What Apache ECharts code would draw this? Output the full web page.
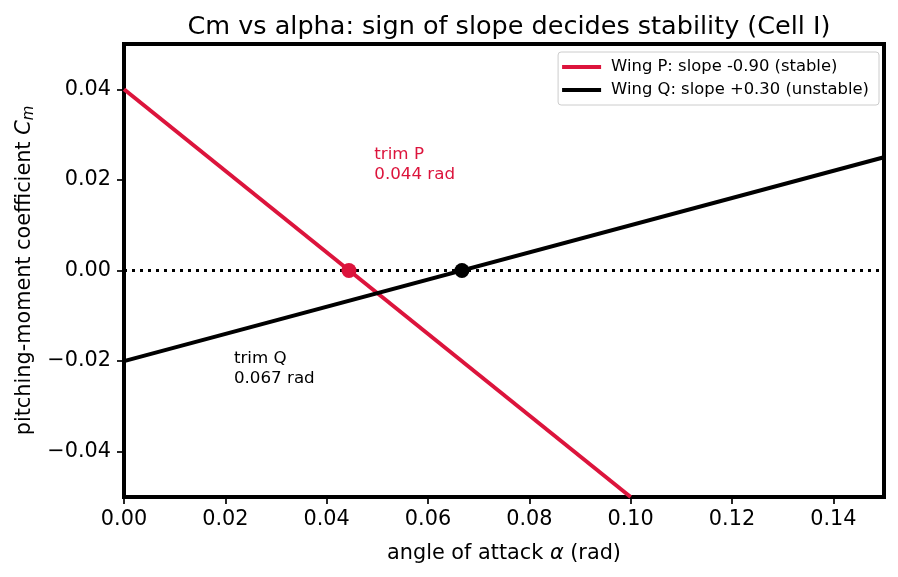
<!DOCTYPE html>
<html>
<head>
<meta charset="utf-8">
<script src="https://cdn.jsdelivr.net/npm/echarts@6/dist/echarts.min.js"></script>
</head>
<body style="margin:0">
<div id="main" style="width:898px;height:577px;"></div>
<script type="text/javascript">
    // values
    var alphaP = [0, 0.10];
    var cmP = [0.04, -0.05];
    var alphaQ = [0, 0.15];
    var cmQ = [-0.02, 0.025];
    var zeroLine = [[0, 0], [0.15, 0]];
    var trimP = [0.0444, 0];
    var trimQ = [0.0667, 0];
    var noteP = [0.0494, 0.02];
    var noteQ = [0.0217, -0.025];
    var xTicks = [0, 0.02, 0.04, 0.06, 0.08, 0.10, 0.12, 0.14];
    var yTicks = [-0.04, -0.02, 0, 0.02, 0.04];

    var red = '#dc143c';
    var font = 'DejaVu Sans';

    function pairs(xs, ys) {
        return xs.map(function (x, i) { return [x, ys[i]]; });
    }
    function fmt(v) {
        return v.toFixed(2).replace('-', '\u2212');
    }

    var myChart = echarts.init(document.getElementById('main'));
    var option = {
        animation: false,
        textStyle: { fontFamily: font },
        title: {
            text: 'Cm vs alpha: sign of slope decides stability (Cell I)',
            left: 504, top: 9, textAlign: 'center',
            textStyle: { fontFamily: font, fontSize: 25.5, fontWeight: 'normal', color: '#000' }
        },
        grid: {
            left: 124, right: 14, top: 44, bottom: 80,
            show: true, borderWidth: 4, borderColor: '#000'
        },
        legend: {
            data: ['Wing P: slope -0.90 (stable)', 'Wing Q: slope +0.30 (unstable)'],
            orient: 'vertical', right: 19, top: 52,
            icon: 'rect', itemWidth: 39, itemHeight: 4, itemGap: 7,
            padding: [7, 10, 7, 4],
            borderColor: '#ccc', borderWidth: 1, borderRadius: 3,
            backgroundColor: '#fff',
            textStyle: { fontFamily: font, fontSize: 16.4, color: '#000', padding: [0, 0, 0, 5] }
        },
        xAxis: {
            type: 'value', min: 0, max: 0.15,
            name: 'angle of attack {i|α} (rad)',
            nameLocation: 'middle', nameGap: 46,
            nameTextStyle: {
                fontFamily: font, fontSize: 20.8, color: '#000',
                rich: { i: { fontFamily: font, fontSize: 20.8, fontStyle: 'italic', color: '#000' } }
            },
            axisLine: { show: false, onZero: false },
            splitLine: { show: false },
            axisTick: { show: true, length: 7, lineStyle: { color: '#000', width: 1.7 }, customValues: xTicks },
            axisLabel: { color: '#000', fontSize: 20.8, fontFamily: font, margin: 12, customValues: xTicks, formatter: fmt }
        },
        yAxis: {
            type: 'value', min: -0.05, max: 0.05,
            name: 'pitching-moment coefficient {i|C}{s|m}',
            nameLocation: 'middle', nameGap: 84,
            nameTextStyle: {
                fontFamily: font, fontSize: 20.8, color: '#000',
                rich: {
                    i: { fontFamily: font, fontSize: 20.8, fontStyle: 'italic', color: '#000' },
                    s: { fontFamily: font, fontSize: 15, fontStyle: 'italic', color: '#000', verticalAlign: 'bottom', padding: [8, 0, 0, 0] }
                }
            },
            axisLine: { show: false, onZero: false },
            splitLine: { show: false },
            axisTick: { show: true, length: 7, lineStyle: { color: '#000', width: 1.7 }, customValues: yTicks },
            axisLabel: { color: '#000', fontSize: 20.8, fontFamily: font, margin: 13, customValues: yTicks, formatter: fmt }
        },
        series: [
            {
                name: 'zero', type: 'line', data: zeroLine, symbol: 'none', silent: true,
                lineStyle: { color: '#000', width: 3, type: [3, 5] }, z: 1
            },
            {
                name: 'Wing P: slope -0.90 (stable)', type: 'line', data: pairs(alphaP, cmP),
                symbol: 'none', itemStyle: { color: red }, lineStyle: { color: red, width: 4 }, z: 2
            },
            {
                name: 'Wing Q: slope +0.30 (unstable)', type: 'line', data: pairs(alphaQ, cmQ),
                symbol: 'none', itemStyle: { color: '#000' }, lineStyle: { color: '#000', width: 4 }, z: 2
            },
            {
                name: 'trimP', type: 'scatter', data: [trimP], symbolSize: 15,
                itemStyle: { color: red, opacity: 1 }, z: 5
            },
            {
                name: 'trimQ', type: 'scatter', data: [trimQ], symbolSize: 15,
                itemStyle: { color: '#000', opacity: 1 }, z: 5
            },
            {
                name: 'noteP', type: 'scatter', data: [noteP], symbolSize: 0, z: 6,
                itemStyle: { opacity: 1 },
                label: {
                    show: true, position: [0, 0], offset: [0, 5], align: 'left', verticalAlign: 'bottom',
                    formatter: 'trim P\n0.044 rad', color: red, fontSize: 16.7, fontFamily: font, lineHeight: 20
                }
            },
            {
                name: 'noteQ', type: 'scatter', data: [noteQ], symbolSize: 0, z: 6,
                itemStyle: { opacity: 1 },
                label: {
                    show: true, position: [0, 0], offset: [0, 5], align: 'left', verticalAlign: 'bottom',
                    formatter: 'trim Q\n0.067 rad', color: '#000', fontSize: 16.7, fontFamily: font, lineHeight: 20
                }
            }
        ]
    };
    myChart.setOption(option);
</script>
</body>
</html>
